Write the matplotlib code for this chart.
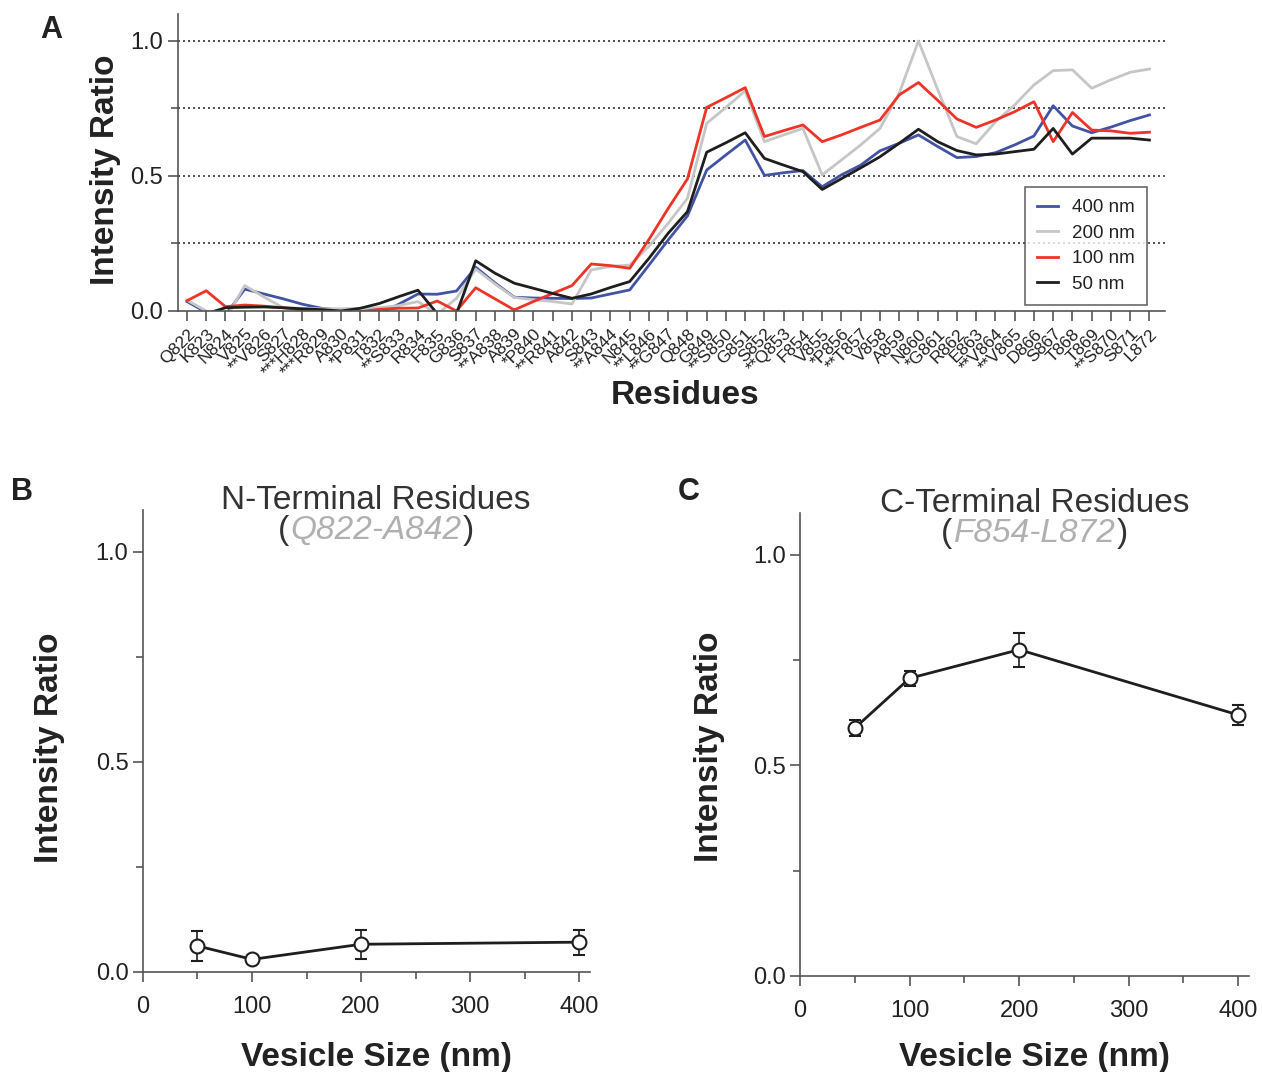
import matplotlib
matplotlib.use('Agg')
import matplotlib.pyplot as plt
from matplotlib.ticker import MultipleLocator

plt.rcParams['font.family'] = ['Liberation Sans', 'DejaVu Sans']

# panel A: per-residue intensity ratios
residues = ['Q822', 'K823', 'N824', 'V825', '**V826', 'S827', '***H828', '***R829', 'A830', '*P831',
            'T832', '**S833', 'R834', 'F835', 'G836', 'S837', '**A838', 'A839', '*P840', '**R841',
            'A842', 'S843', '**A844', 'N845', '**L846', '**G847', 'Q848', 'G849', '**S850', 'G851',
            'S852', '**Q853', 'F854', 'V855', '*P856', '**T857', 'V858', 'A859', 'N860', '*G861',
            'R862', 'E863', '**V864', '**V865', 'D866', 'S867', 'T868', 'T869', '**S870', 'S871', 'L872']

ratio_400 = [0.035, -0.005, -0.015, 0.081, 0.063, 0.045, 0.025, 0.01, 0.003, -0.01,
             -0.01, 0.025, 0.063, 0.062, 0.074, 0.162, 0.104, 0.051, 0.048, 0.047,
             0.046, 0.048, 0.063, 0.078, 0.17, 0.263, 0.352, 0.522, 0.578, 0.633,
             0.502, 0.512, 0.52, 0.46, 0.504, 0.54, 0.593, 0.621, 0.652, 0.609,
             0.568, 0.572, 0.586, 0.615, 0.648, 0.76, 0.685, 0.66, 0.681, 0.705, 0.726]
ratio_200 = [0.04, 0.0, -0.03, 0.094, 0.052, 0.012, 0.01, 0.008, 0.008, 0.01,
             0.012, 0.02, 0.035, -0.012, 0.047, 0.155, 0.1, 0.05, 0.042, 0.035,
             0.026, 0.152, 0.165, 0.17, 0.24, 0.325, 0.417, 0.695, 0.754, 0.815,
             0.627, 0.652, 0.676, 0.504, 0.559, 0.615, 0.676, 0.806, 1.0, 0.82,
             0.646, 0.619, 0.70, 0.763, 0.837, 0.89, 0.893, 0.825, 0.856, 0.884, 0.896]
ratio_100 = [0.038, 0.075, 0.016, 0.022, 0.018, 0.012, 0.004, -0.01, -0.01, -0.002,
             0.006, 0.01, 0.011, 0.037, 0.0, 0.086, 0.045, 0.004, 0.035, 0.065,
             0.094, 0.174, 0.168, 0.158, 0.265, 0.38, 0.489, 0.754, 0.79, 0.827,
             0.646, 0.668, 0.689, 0.627, 0.652, 0.68, 0.707, 0.8, 0.846, 0.78,
             0.711, 0.68, 0.707, 0.738, 0.775, 0.627, 0.735, 0.67, 0.667, 0.658, 0.662]
ratio_50 = [-0.02, -0.01, 0.012, 0.014, 0.015, 0.012, 0.008, 0.005, 0.0, 0.01,
            0.028, 0.053, 0.077, -0.01, -0.01, 0.186, 0.14, 0.103, 0.084, 0.065,
            0.047, 0.063, 0.087, 0.109, 0.195, 0.288, 0.368, 0.588, 0.623, 0.66,
            0.565, 0.54, 0.516, 0.45, 0.49, 0.53, 0.571, 0.621, 0.673, 0.627,
            0.594, 0.578, 0.581, 0.59, 0.599, 0.676, 0.581, 0.64, 0.64, 0.64, 0.633]

series_labels = ['400 nm', '200 nm', '100 nm', '50 nm']
series_colors = ['#4253a6', '#c6c6c6', '#ee3427', '#1e1e1e']

# panels B and C: averaged ratios vs vesicle size
vesicle_size = [50, 100, 200, 400]
nterm_mean = [0.062, 0.030, 0.066, 0.071]
nterm_err = [0.035, 0.006, 0.034, 0.030]
cterm_mean = [0.589, 0.707, 0.775, 0.620]
cterm_err = [0.020, 0.018, 0.040, 0.023]

TXT = '#222222'
SPINE = '#555555'


def style_axis(ax):
    for side in ('top', 'right'):
        ax.spines[side].set_visible(False)
    for side in ('left', 'bottom'):
        ax.spines[side].set_color(SPINE)
        ax.spines[side].set_linewidth(1.2)
    ax.tick_params(which='major', length=7, width=1.2, color=SPINE, labelsize=17, labelcolor=TXT)
    ax.tick_params(which='minor', length=5, width=1.2, color=SPINE)


fig = plt.figure(figsize=(12.62, 10.72), dpi=100)

# ---- panel A ----
axA = fig.add_axes([0.141, 0.7099, 0.782, 0.2771])
x = list(range(len(residues)))
for vals, lab, col in zip([ratio_400, ratio_200, ratio_100, ratio_50], series_labels, series_colors):
    axA.plot(x, vals, color=col, lw=2.0, label=lab)
for yv in (0.25, 0.5, 0.75, 1.0):
    axA.axhline(yv, color='#333333', lw=1.2, ls=(0, (1.2, 1.8)), zorder=0)
axA.set_xlim(-0.47, 50.8)
axA.set_ylim(0, 1.1)
axA.set_yticks([0, 0.5, 1.0])
axA.set_yticklabels(['0.0', '0.5', '1.0'])
axA.yaxis.set_minor_locator(MultipleLocator(0.25))
axA.set_xticks(x)
axA.set_xticklabels(residues, rotation=45, ha='right', rotation_mode='anchor')
style_axis(axA)
axA.tick_params(axis='x', labelsize=12.5, pad=4)
axA.set_ylabel('Intensity Ratio', fontsize=24, fontweight='bold', color=TXT)
axA.yaxis.set_label_coords(-0.058, 0.475)
axA.set_xlabel('Residues', fontsize=24, fontweight='bold', color=TXT)
axA.xaxis.set_label_coords(0.514, -0.233)
leg = axA.legend(loc='lower right', bbox_to_anchor=(0.982, 0.02), borderaxespad=0, fontsize=13.5,
                 frameon=True, fancybox=False, edgecolor='#444444', handlelength=1.1,
                 labelspacing=0.45, borderpad=0.65, handletextpad=0.75)
leg.get_frame().set_linewidth(1.2)
for t in leg.get_texts():
    t.set_color(TXT)


def size_panel(rect, mean, err, title, sub, title_x):
    ax = fig.add_axes(rect)
    ax.errorbar(vesicle_size, mean, yerr=err, color='#1e1e1e', lw=2, marker='o', ms=10,
                mfc='white', mec='#1e1e1e', mew=1.5, capsize=4, elinewidth=1.2, capthick=1.2, zorder=3)
    ax.set_xlim(0, 410)
    ax.set_ylim(0, 1.1)
    ax.set_xticks([0, 100, 200, 300, 400])
    ax.xaxis.set_minor_locator(MultipleLocator(50))
    ax.set_yticks([0, 0.5, 1.0])
    ax.set_yticklabels(['0.0', '0.5', '1.0'])
    ax.yaxis.set_minor_locator(MultipleLocator(0.25))
    style_axis(ax)
    ax.tick_params(axis='x', pad=10)
    ax.set_ylabel('Intensity Ratio', fontsize=24, fontweight='bold', color=TXT)
    ax.set_xlabel('Vesicle Size (nm)', fontsize=24, fontweight='bold', color=TXT)
    fig.text(title_x, rect[1] + rect[3] + 0.001, title, fontsize=24, color='#333333',
             ha='center', va='baseline')
    mid = fig.text(title_x, rect[1] + rect[3] - 0.027, sub, fontsize=24, color='#b0b0b0',
                   style='italic', ha='center', va='baseline')
    fig.canvas.draw()
    ax.annotate('(', xy=(0, 0), xycoords=mid, xytext=(-1, 0), textcoords='offset points',
                ha='right', va='bottom', fontsize=24, color='#333333')
    ax.annotate(')', xy=(1, 0), xycoords=mid, xytext=(1, 0), textcoords='offset points',
                ha='left', va='bottom', fontsize=24, color='#333333')
    return ax


axB = size_panel([0.1133, 0.0933, 0.3542, 0.431], nterm_mean, nterm_err,
                 'N-Terminal Residues', 'Q822-A842', 0.298)
axB.yaxis.set_label_coords(-0.175, 0.486)
axB.xaxis.set_label_coords(0.523, -0.152)

axC = size_panel([0.634, 0.0896, 0.3558, 0.432], cterm_mean, cterm_err,
                 'C-Terminal Residues', 'F854-L872', 0.8197)
axC.yaxis.set_label_coords(-0.167, 0.495)
axC.xaxis.set_label_coords(0.521, -0.143)

for lx, ly, letter in [(40, 38, 'A'), (11, 500, 'B'), (678, 500, 'C')]:
    fig.text(lx / 1262, 1 - ly / 1072, letter, fontsize=22, fontweight='bold', color=TXT)

fig.savefig('out.png', dpi=100)
